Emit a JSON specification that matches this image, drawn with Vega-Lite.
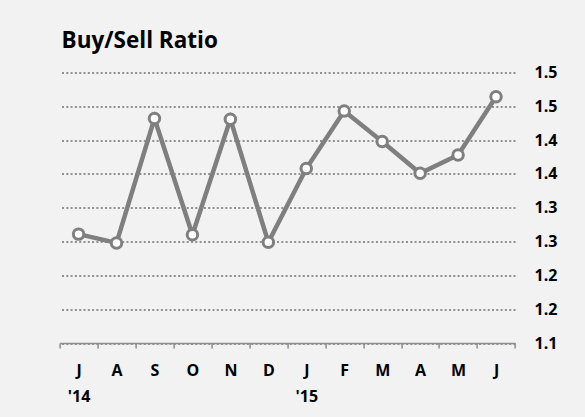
{
  "$schema": "https://vega.github.io/schema/vega-lite/v6.json",
  "width": 455.4,
  "height": 270.5,
  "autosize": {"type": "none"},
  "padding": {"left": 59.6, "top": 72.5, "right": 70, "bottom": 74},
  "background": "#f2f2f2",
  "title": {
    "text": "Buy/Sell Ratio",
    "anchor": "start",
    "frame": "group",
    "baseline": "alphabetic",
    "offset": 21.5,
    "dx": 2,
    "dy": 27,
    "font": "Open Sans",
    "fontSize": 22.5,
    "fontWeight": "bold",
    "color": "#000000"
  },
  "config": {
    "view": {"stroke": null},
    "axis": {"labelFont": "Open Sans", "labelFontWeight": "bold", "labelColor": "#000000", "labelFontSize": 16}
  },
  "data": {
    "values": [
      {"month": "Jul 2014", "ratio": 1.261},
      {"month": "Aug 2014", "ratio": 1.248},
      {"month": "Sep 2014", "ratio": 1.432},
      {"month": "Oct 2014", "ratio": 1.260},
      {"month": "Nov 2014", "ratio": 1.431},
      {"month": "Dec 2014", "ratio": 1.249},
      {"month": "Jan 2015", "ratio": 1.358},
      {"month": "Feb 2015", "ratio": 1.443},
      {"month": "Mar 2015", "ratio": 1.398},
      {"month": "Apr 2015", "ratio": 1.351},
      {"month": "May 2015", "ratio": 1.378},
      {"month": "Jun 2015", "ratio": 1.464}
    ]
  },
  "encoding": {
    "x": {
      "field": "month",
      "type": "ordinal",
      "sort": null,
      "scale": {"type": "band", "paddingInner": 0, "paddingOuter": 0},
      "axis": {
        "title": null,
        "labelAngle": 0,
        "tickBand": "extent",
        "domainColor": "#8c8c8c",
        "domainWidth": 1.5,
        "tickColor": "#8c8c8c",
        "tickWidth": 1.5,
        "tickSize": 5,
        "labelPadding": 14,
        "labelLineHeight": 26,
        "labelExpr": "!datum.value ? '' : datum.value == 'Jul 2014' ? ['J', \"'14\"] : datum.value == 'Jan 2015' ? ['J', \"'15\"] : substring(datum.value, 0, 1)"
      }
    },
    "y": {
      "field": "ratio",
      "type": "quantitative",
      "scale": {"domain": [1.1, 1.5], "zero": false, "nice": false},
      "axis": {
        "title": null,
        "orient": "right",
        "values": [1.1, 1.15, 1.2, 1.25, 1.3, 1.35, 1.4, 1.45, 1.5],
        "labelExpr": "format(datum.value + 0.0001, '.1f')",
        "labelAlign": "left",
        "labelBaseline": "middle",
        "labelPadding": 19,
        "domain": false,
        "ticks": false,
        "grid": true,
        "gridColor": "#909090",
        "gridWidth": 2,
        "gridDash": [2, 2.3]
      }
    }
  },
  "layer": [
    {"mark": {"type": "line", "color": "#7f7f7f", "strokeWidth": 4.5}},
    {"mark": {"type": "point", "filled": false, "fill": "#ffffff", "fillOpacity": 1, "stroke": "#7f7f7f", "strokeWidth": 3, "size": 110, "opacity": 1}}
  ]
}
